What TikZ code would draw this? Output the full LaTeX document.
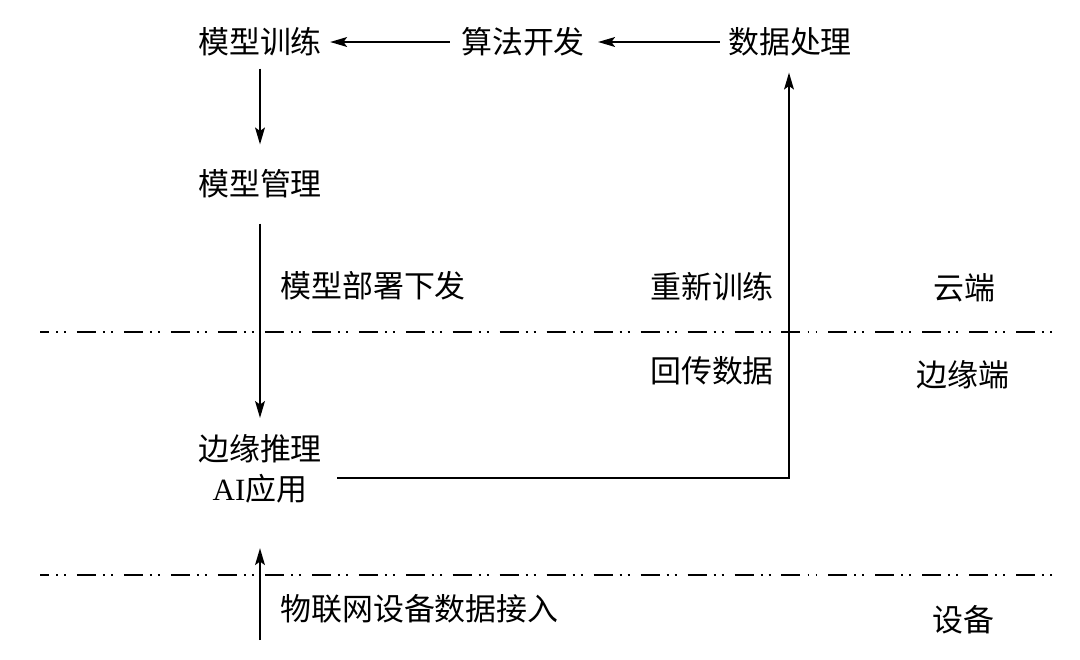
\documentclass[tikz,border=0pt]{standalone}
\usepackage{fontspec}
\setmainfont{Liberation Serif}
\newfontfamily\cjk{Noto Sans CJK SC}
\usetikzlibrary{positioning, arrows.meta}
\tikzset{
>={Stealth[length=12pt,width=7pt,inset=2.5pt]}, % narrow solid arrow heads
every node/.style={font=\cjk\fontsize{22}{28.4}\selectfont, inner sep=0pt}, % plain labels, no frames
flow/.style={->, line width=1.3pt}, % arrows of the data flow
layer/.style={line width=1.3pt, dash pattern=on 13.5pt off 5pt on 1.4pt off 4.3pt on 1.4pt off 7.8pt, dash phase=7.1pt}, % border between two layers
}

\begin{document}
\begin{tikzpicture}[x=0.025cm, y=-0.025cm]
            \useasboundingbox (0,0) rectangle (1080,659);

            \node (train) at (260,42) {模型训练};
            \node (algo) at (523,42) {算法开发};
            \node (data) at (790,42) {数据处理};
            \node (manage) at (260,184) {模型管理};
            \node [align=center] (infer) at (260,469) {边缘推理\\{\rmfamily AI}应用};

            \node [anchor=west] (deploy) at (280,286) {模型部署下发};
            \node (retrain) at (712,287) {重新训练};
            \node (upload) at (712,371) {回传数据};
            \node [anchor=west] (iot) at (280,609) {物联网设备数据接入};

            \node (cloud) at (964,288) {云端};
            \node (edgeside) at (963,375) {边缘端};
            \node (device) at (963,620) {设备};

            \coordinate (cut1w) at (40,332);
            \coordinate (cut1e) at (1056,332);
            \coordinate (cut2w) at (40,575);
            \coordinate (cut2e) at (1056,575);
            \coordinate (iotin) at (260,640);
            \coordinate (turn) at (789,478);

            \draw[layer] (cut1w) -- (cut1e);
            \draw[layer] (cut2w) -- (cut2e);

            \draw[flow, shorten <=7.8pt, shorten >=5.7pt] (algo) -- (train);
            \draw[flow, shorten <=5.7pt, shorten >=9.2pt] (data) -- (algo);
            \draw[flow, shorten <=8.5pt, shorten >=17.8pt] (train) -- (manage);
            \draw[flow, shorten <=17.8pt, shorten >=11.7pt] (manage) -- (infer);
            \draw[flow, shorten >=31.7pt] (iotin) -- (infer);
            \draw[flow, shorten <=10.7pt, shorten >=11.4pt] (infer.east |- turn) -- (turn) -- (turn |- data.south);
        \end{tikzpicture}
\end{document}
